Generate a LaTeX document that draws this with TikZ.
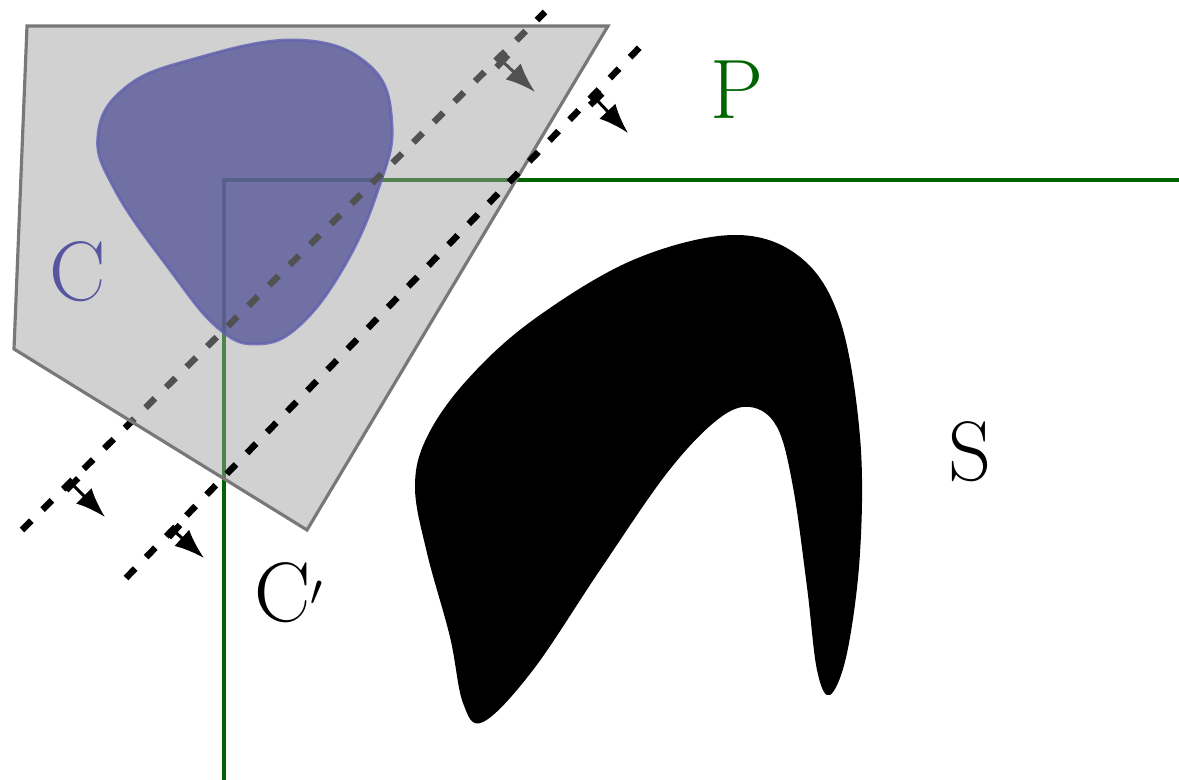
\documentclass[tikz,border=0pt]{standalone}
\usetikzlibrary{arrows.meta}
\definecolor{pgreen}{RGB}{0,100,0}
\definecolor{polyfill}{RGB}{163,163,163}
\definecolor{polyedge}{RGB}{120,120,120}
\definecolor{blobfill}{RGB}{12,12,145}
\definecolor{blobedge}{RGB}{30,30,190}
\definecolor{cblue}{RGB}{85,85,160}
\tikzset{
  halfline/.style={line width=3.7pt, dash pattern=on 7.5pt off 9pt},
  normalarrow/.style={line width=1.7pt, {Rectangle[length=3.6pt,width=9.5pt]}-{Latex[length=17pt,width=12.5pt]}},
  biglabel/.style={font=\fontsize{48}{52}\selectfont, inner sep=0pt},
}
\begin{document}
\begin{tikzpicture}[x=0.02cm,y=-0.02cm]
\useasboundingbox (0,0) rectangle (1179,780);
% green boundary P
\coordinate (pcorner) at (224,180);
\coordinate (pright) at (1179,180);
\coordinate (pbottom) at (224,780);
\draw[pgreen, line width=2.2pt] (pright) -- (pcorner) -- (pbottom);
% convex blob C
\draw[blobedge, line width=1.6pt, fill=blobfill, fill opacity=0.8, draw opacity=0.8]
  plot[smooth cycle, tension=0.7] coordinates {(98,135) (125,88) (190,60) (297,40) (370,66) (392,125) (378,190) (345,265) (300,325) (258,344) (218,328) (170,270) (115,190)};
% half-space line 1 (under polygon)
\coordinate (l1a) at (22,530);
\coordinate (l1b) at (545,12);
\draw[halfline] (l1a) -- (l1b);
\coordinate (a1s) at (500,59); \coordinate (a1e) at (535,92);
\coordinate (a2s) at (70,482); \coordinate (a2e) at (105,517);
\draw[normalarrow] (a1s) -- (a1e);
\draw[normalarrow] (a2s) -- (a2e);
% polygon C'
\draw[polyedge, line width=1.8pt, fill=polyfill, fill opacity=0.5]
  (27,26) -- (608,26) -- (307,530) -- (14,349) -- cycle;
% half-space line 2 (on top)
\coordinate (l2a) at (126,578);
\coordinate (l2b) at (640,47);
\draw[halfline] (l2a) -- (l2b);
\coordinate (b1s) at (594,97); \coordinate (b1e) at (628,133);
\coordinate (b2s) at (172,529); \coordinate (b2e) at (204,558);
\draw[normalarrow] (b1s) -- (b1e);
\draw[normalarrow] (b2s) -- (b2e);
% obstacle S
\fill[black] plot[smooth cycle, tension=0.6] coordinates {(733,235) (800,257) (840,320) (860,437) (860,553) (847,653) (830,695) (817,670) (807,587) (793,487) (777,427) (750,407) (717,420) (667,473) (600,570) (533,670) (483,722) (463,703) (450,637) (427,553) (415,487) (427,437) (467,380) (533,320) (633,260)};
% labels
\node[biglabel, text=cblue] (labC) at (78,272) {C};
\node[biglabel, text=pgreen] (labP) at (737,90) {P};
\node[biglabel] (labS) at (970,452) {S};
\node[biglabel, anchor=base west] (labCp) at (254,621) {C$'$};
\end{tikzpicture}
\end{document}
